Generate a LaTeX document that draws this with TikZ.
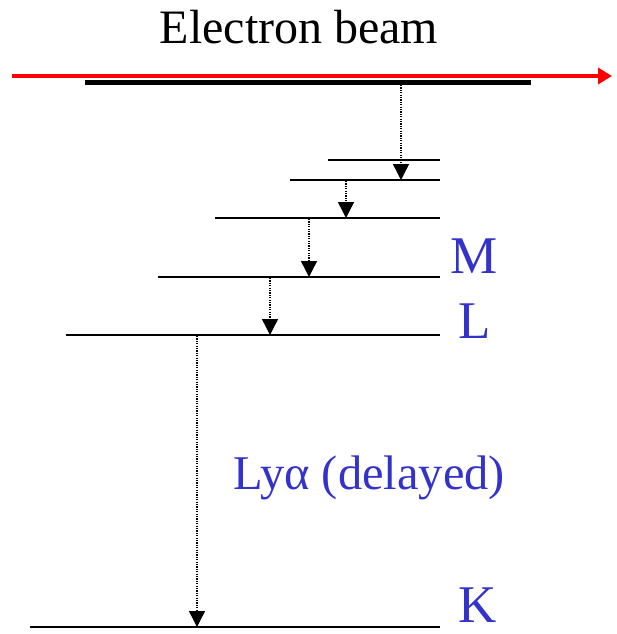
\documentclass[tikz,border=0pt]{standalone}
\usepackage{fontspec}
\setmainfont{Liberation Serif}
\usetikzlibrary{arrows.meta}
\definecolor{lblue}{RGB}{51,51,204}
\tikzset{
    level/.style={line width=1.8pt},
    decay/.style={line width=1.4pt, dash pattern=on 1.2pt off 1.2pt,
        -{Triangle[length=16pt, width=16pt]}},
    lbl/.style={text=lblue, inner sep=0pt, anchor=base west, text depth=0pt,
        font=\fontsize{53}{57}\selectfont},
}
\begin{document}
\begin{tikzpicture}[x=1pt, y=-1pt]
    \useasboundingbox (0,0) rectangle (616,634);
    % beam
    \node[inner sep=0pt, anchor=base, font=\fontsize{48}{52}\selectfont] (title) at (299,44) {Electron beam};
    \draw[red, line width=4pt, -{Triangle[length=14pt, width=16pt]}] (12,76) -- (612,76);
    \draw[line width=5pt] (85,82) -- (531,82);
    % levels
    \draw[level] (328,160) -- (440,160);
    \draw[level] (290,180) -- (440,180);
    \draw[level] (215,218) -- (440,218);
    \draw[level] (158,277) -- (440,277);
    \draw[level] (66,335) -- (440,335);
    \draw[level] (30,627) -- (440,627);
    % cascade
    \coordinate (b0) at (401,85);
    \coordinate (b1) at (401,180);
    \coordinate (c0) at (346,181);
    \coordinate (c1) at (346,218);
    \coordinate (d0) at (309,219);
    \coordinate (d1) at (309,277);
    \coordinate (e0) at (270,278);
    \coordinate (e1) at (270,335);
    \coordinate (f0) at (197,336);
    \coordinate (f1) at (197,627);
    \draw[decay] (b0) -- (b1);
    \draw[decay] (c0) -- (c1);
    \draw[decay] (d0) -- (d1);
    \draw[decay] (e0) -- (e1);
    \draw[decay] (f0) -- (f1);
    % labels
    \node[lbl] (M) at (450,273) {M};
    \node[lbl] (L) at (458,338) {L};
    \node[lbl] (K) at (458,622) {K};
    \node[lbl, font=\fontsize{48.5}{52}\selectfont] (lya) at (233,489) {Lyα (delayed)};
\end{tikzpicture}
\end{document}
